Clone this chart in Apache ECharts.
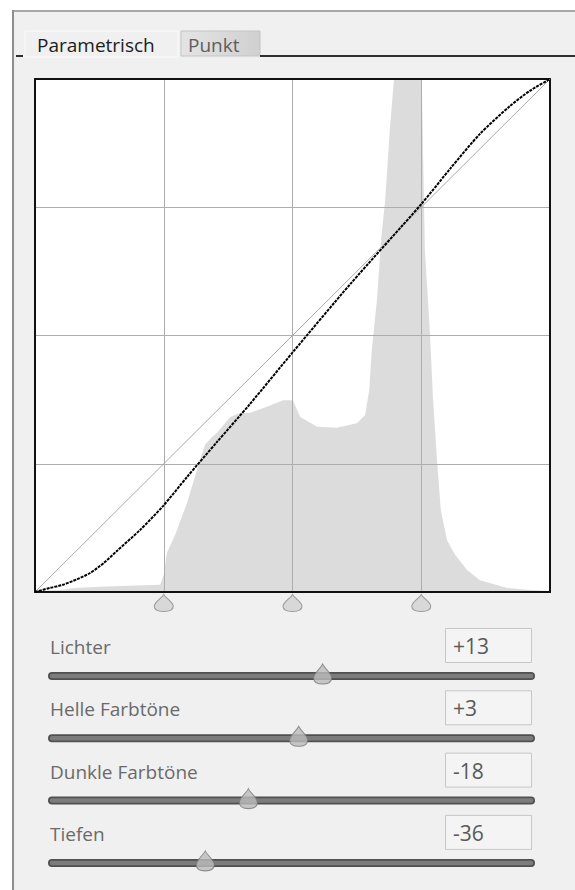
<!DOCTYPE html>
<html><head><meta charset="utf-8">
<script src="https://cdn.jsdelivr.net/npm/echarts@6/dist/echarts.min.js"></script>
<style>html,body{margin:0;padding:0;background:#fff}#c{width:575px;height:890px}</style>
</head><body><div id="c"></div>
<script>
// Histogram (x: tonal position 0-100, y: relative height 0-100, peak clipped)
const histX = [0, 4.9, 7.8, 12.6, 18.4, 24.3, 25.0, 25.6, 27.2, 29.5, 31.9, 33.0, 34.4, 35.3, 37.9, 39.8, 41.7, 45.0, 48.2, 50.1, 50.7, 51.5, 54.8, 58.6, 62.5, 64.1, 64.9, 65.4, 66.4, 67.2, 68.0, 68.9, 69.7, 75.1, 75.7, 76.3, 76.7, 77.3, 78.1, 78.8, 80.0, 81.6, 83.9, 86.4, 91.7, 96.1, 100];
const histY = [0.2, 0.4, 0.8, 1.0, 1.2, 1.4, 3.3, 7.6, 11.1, 17.3, 25.3, 28.7, 30.2, 31.0, 34.1, 34.9, 34.9, 36.1, 37.4, 37.4, 35.9, 34.1, 32.2, 32.0, 32.9, 34.5, 39.4, 47.2, 56.9, 68.6, 76.4, 90.1, 100, 100, 66.7, 56.9, 50.1, 37.4, 25.1, 16.0, 10.1, 7.2, 4.3, 2.3, 0.8, 0.4, 0.2];
// Tone curve
const curveX = [0, 2.9, 5.4, 8.2, 10.7, 13.4, 15.9, 20.4, 24.9, 29.5, 35.3, 41.7, 50.1, 61.2, 75.0, 80.6, 86.4, 92.2, 96.1, 100];
const curveY = [0, 0.8, 1.4, 2.5, 3.7, 5.7, 8.0, 12.1, 16.8, 22.4, 29.2, 36.6, 46.8, 60.0, 75.6, 82.5, 89.3, 94.7, 97.7, 100];
// Reference diagonal
const diagX = [0, 100];
const diagY = [0, 100];
// Region split points
const splitPoints = [25, 50, 75];
// Sliders
const sliderNames = ['Lichter', 'Helle Farbtöne', 'Dunkle Farbtöne', 'Tiefen'];
const sliderValues = [13, 3, -18, -36];
const tabNames = ['Parametrisch', 'Punkt'];

const FONT = 'Open Sans';
const dropPath = 'path://M10,0 C12,4 20,8 20,12.5 C20,16.5 15.5,18 10,18 C4.5,18 0,16.5 0,12.5 C0,8 8,4 10,0 Z';

const plot = {left: 35, top: 79, width: 515, height: 513};
const rowTop0 = 628, rowStep = 62.3;
const trackLeft = 52, trackWidth = 479;

const grids = [
  {left: plot.left, top: plot.top, width: plot.width, height: plot.height, show: true, backgroundColor: '#fff', borderWidth: 0},
  {left: plot.left, top: plot.top + plot.height + 2, width: plot.width, height: 18}
];
const xAxes = [
  {gridIndex: 0, type: 'value', min: 0, max: 100, interval: 25, z: 3,
   axisLine: {show: true, onZero: false, lineStyle: {color: '#111', width: 2}}, axisTick: {show: false}, axisLabel: {show: false},
   splitLine: {show: true, lineStyle: {color: '#adadad', width: 1}}},
  {gridIndex: 0, type: 'value', min: 0, max: 100, position: 'top', z: 3,
   axisLine: {show: true, onZero: false, lineStyle: {color: '#111', width: 2}}, axisTick: {show: false}, axisLabel: {show: false}, splitLine: {show: false}},
  {gridIndex: 1, type: 'value', min: 0, max: 100, show: false}
];
const yAxes = [
  {gridIndex: 0, type: 'value', min: 0, max: 100, interval: 25, z: 3,
   axisLine: {show: true, onZero: false, lineStyle: {color: '#111', width: 2}}, axisTick: {show: false}, axisLabel: {show: false},
   splitLine: {show: true, lineStyle: {color: '#adadad', width: 1}}},
  {gridIndex: 0, type: 'value', min: 0, max: 100, position: 'right', z: 3,
   axisLine: {show: true, onZero: false, lineStyle: {color: '#111', width: 2}}, axisTick: {show: false}, axisLabel: {show: false}, splitLine: {show: false}},
  {gridIndex: 1, type: 'value', min: 0, max: 1, show: false}
];

const series = [
  {type: 'line', xAxisIndex: 0, yAxisIndex: 0, z: 1, symbol: 'none', silent: true,
   data: histX.map((x, i) => [x, histY[i]]),
   lineStyle: {width: 0}, itemStyle: {color: '#dcdcdc'}, areaStyle: {color: '#dcdcdc', opacity: 1}},
  {type: 'line', xAxisIndex: 0, yAxisIndex: 0, z: 4, symbol: 'none', silent: true,
   data: diagX.map((x, i) => [x, diagY[i]]),
   lineStyle: {color: '#a9a9a9', width: 1}},
  {type: 'line', xAxisIndex: 0, yAxisIndex: 0, z: 5, symbol: 'none', silent: true, smooth: 0.25,
   data: curveX.map((x, i) => [x, curveY[i]]),
   lineStyle: {color: '#000', width: 2, type: [3, 1]}},
  {type: 'scatter', xAxisIndex: 2, yAxisIndex: 2, silent: true, symbol: dropPath, symbolSize: [19, 17],
   data: splitPoints.map(x => [x, 0.5]),
   itemStyle: {color: '#d2d2d2', borderColor: '#8a8a8a', borderWidth: 1}}
];

const graphic = [
  {type: 'rect', shape: {x: 13, y: 11, width: 562, height: 879}, style: {fill: '#f0f0f0'}, z: -10},
  {type: 'line', shape: {x1: 12, y1: 11, x2: 575, y2: 11}, style: {stroke: '#a8a8a8', lineWidth: 2}, z: -9},
  {type: 'line', shape: {x1: 13, y1: 10, x2: 13, y2: 890}, style: {stroke: '#8e8e8e', lineWidth: 2}, z: -9},
  // active tab
  {type: 'rect', shape: {x: 25, y: 31, width: 153, height: 26}, style: {fill: '#f0f0f0', stroke: '#fbfbfb', lineWidth: 1}, z: -8},
  {type: 'text', x: 37, y: 45, style: {text: tabNames[0], font: '19px "' + FONT + '"', fill: '#1c1c1c', verticalAlign: 'middle'}},
  // inactive tab
  {type: 'rect', shape: {x: 181, y: 31, width: 79, height: 25},
   style: {fill: new echarts.graphic.LinearGradient(0, 0, 1, 0, [{offset: 0, color: '#e4e4e4'}, {offset: 1, color: '#d0d0d0'}]), stroke: '#c4c4c4', lineWidth: 1}, z: -8},
  {type: 'text', x: 188, y: 45, style: {text: tabNames[1], font: '19px "' + FONT + '"', fill: '#5e5e5e', verticalAlign: 'middle'}},
  {type: 'line', shape: {x1: 260, y1: 56, x2: 575, y2: 56}, style: {stroke: '#2e2e2e', lineWidth: 2}},
  {type: 'line', shape: {x1: 16, y1: 56, x2: 23, y2: 56}, style: {stroke: '#2e2e2e', lineWidth: 2}}
];

sliderNames.forEach((name, i) => {
  const top = rowTop0 + i * rowStep;
  const trackY = top + 48;
  const gi = grids.length;
  grids.push({left: trackLeft, width: trackWidth, top: trackY - 10, height: 20});
  xAxes.push({gridIndex: gi, type: 'value', min: -100, max: 100, show: false});
  yAxes.push({gridIndex: gi, type: 'value', min: -1, max: 1, show: false});
  series.push(
    {type: 'line', xAxisIndex: gi + 1, yAxisIndex: gi + 1, symbol: 'none', silent: true, z: 2,
     data: [[-100, 0], [100, 0]], lineStyle: {color: '#505050', width: 8, cap: 'round'}},
    {type: 'line', xAxisIndex: gi + 1, yAxisIndex: gi + 1, symbol: 'none', silent: true, z: 3,
     data: [[-100, 0], [100, 0]], lineStyle: {color: '#7c7c7c', width: 4.5, cap: 'round'}},
    {type: 'scatter', xAxisIndex: gi + 1, yAxisIndex: gi + 1, silent: true, z: 4, symbol: dropPath,
     symbolSize: [18, 20], symbolOffset: [0, -2],
     data: [[sliderValues[i], 0]], itemStyle: {color: '#bcbcbc', borderColor: '#787878', borderWidth: 1}}
  );
  const v = sliderValues[i];
  graphic.push(
    {type: 'text', x: 50, y: top + 19, style: {text: name, font: '19px "' + FONT + '"', fill: '#6a6a6a', verticalAlign: 'middle'}},
    {type: 'rect', shape: {x: 445.5, y: top + 0.5, width: 86, height: 34}, style: {fill: '#f4f4f4', stroke: '#c6c6c6', lineWidth: 1}},
    {type: 'text', x: 453, y: top + 18, style: {text: v > 0 ? '+' + v : String(v), font: '21px "' + FONT + '"', fill: '#5a5a5a', verticalAlign: 'middle'}}
  );
});

const chart = echarts.init(document.getElementById('c'), null, {renderer: 'svg'});
chart.setOption({
  animation: false,
  backgroundColor: '#fff',
  grid: grids,
  xAxis: xAxes,
  yAxis: yAxes,
  series: series,
  graphic: graphic
});
</script>
</body></html>
